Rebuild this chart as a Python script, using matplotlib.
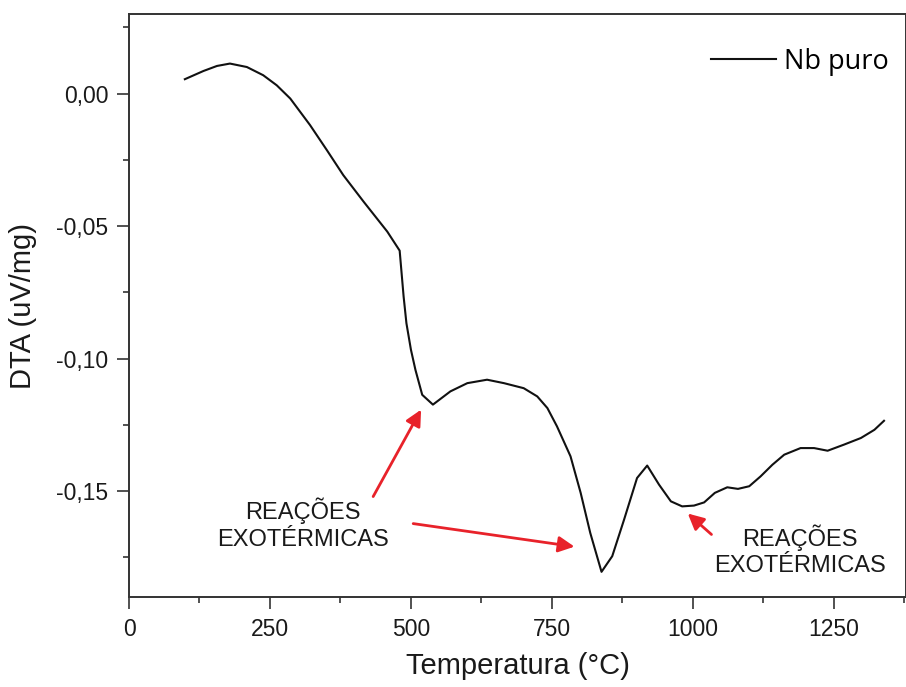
import matplotlib
matplotlib.use("Agg")
import matplotlib.pyplot as plt

plt.rcParams['font.family'] = ['Liberation Sans', 'DejaVu Sans']

# curva DTA
temperatura = [99, 132, 156, 179, 209, 238, 262, 286, 321, 351, 380, 416, 458, 480,
               487, 492, 500, 508, 520, 539, 570, 600, 635, 665, 700, 724, 742, 759,
               783, 801, 818, 838, 857, 878, 901, 919, 940, 961, 981, 1002, 1020, 1039,
               1061, 1080, 1100, 1120, 1141, 1162, 1191, 1215, 1239, 1268, 1298, 1322, 1339]
dta = [0.0054, 0.0085, 0.0104, 0.0113, 0.0100, 0.0069, 0.0031, -0.0019, -0.0119, -0.0214,
       -0.0308, -0.0408, -0.0521, -0.0593, -0.0766, -0.0867, -0.0967, -0.1043, -0.1137,
       -0.1174, -0.1124, -0.1093, -0.1080, -0.1093, -0.1112, -0.1143, -0.1187, -0.1256,
       -0.1369, -0.1507, -0.1658, -0.1805, -0.1746, -0.1608, -0.1451, -0.1404, -0.1476,
       -0.1539, -0.1558, -0.1555, -0.1543, -0.1507, -0.1486, -0.1492, -0.1482, -0.1445,
       -0.1401, -0.1363, -0.1338, -0.1338, -0.1348, -0.1325, -0.1300, -0.1269, -0.1235]

x_ticks = [0, 250, 500, 750, 1000, 1250]
y_ticks = [0.00, -0.05, -0.10, -0.15]
y_tick_labels = ["0,00", "-0,05", "-0,10", "-0,15"]

# setas: (ponta, cauda)
setas = [((518, -0.1193), (433, -0.1521)),
         ((790, -0.1710), (504, -0.1623)),
         ((991, -0.1585), (1033, -0.1664))]
vermelho = "#e8222a"

fig = plt.figure(figsize=(9.06, 6.87), dpi=100)
ax = fig.add_axes([0.1424, 0.1310, 0.8576, 0.8486])

ax.plot(temperatura, dta, color="#111111", lw=1.5, label="Nb puro")

ax.set_xlim(0, 1378)
ax.set_ylim(-0.19, 0.03)
ax.set_xticks(x_ticks)
ax.set_xticks([125, 375, 625, 875, 1125, 1375], minor=True)
ax.set_yticks(y_ticks)
ax.set_yticklabels(y_tick_labels)
ax.set_yticks([0.025, -0.025, -0.075, -0.125, -0.175], minor=True)

for s in ax.spines.values():
    s.set_linewidth(1.4)
    s.set_color("#333333")
ax.tick_params(which="major", direction="out", length=8.5, width=1.2,
               labelsize=16.5, pad=6.5, colors="#333333", labelcolor="#1a1a1a")
ax.tick_params(which="minor", direction="out", length=4.5, width=1.2, colors="#333333")

ax.set_xlabel("Temperatura (°C)", fontsize=21, labelpad=8, color="#1a1a1a")
ax.set_ylabel("DTA (uV/mg)", fontsize=21, labelpad=14, color="#1a1a1a")

leg = ax.legend(loc="center right", bbox_to_anchor=(0.978, 0.918), frameon=False,
                borderaxespad=0, borderpad=0, handlelength=2.4, handletextpad=0.3,
                prop={"family": "Open Sans", "size": 19.5})

for ponta, cauda in setas:
    ax.annotate("", xy=ponta, xytext=cauda,
                arrowprops=dict(arrowstyle="-|>", color=vermelho, lw=2,
                                mutation_scale=24, shrinkA=0, shrinkB=0))

ax.text(309, -0.1625, "REAÇÕES\nEXOTÉRMICAS", fontsize=17, ha="center", va="center",
        linespacing=1.25, color="#1a1a1a")
ax.text(1190, -0.1725, "REAÇÕES\nEXOTÉRMICAS", fontsize=17, ha="center", va="center",
        linespacing=1.25, color="#1a1a1a")

fig.savefig("out.png", dpi=100)
